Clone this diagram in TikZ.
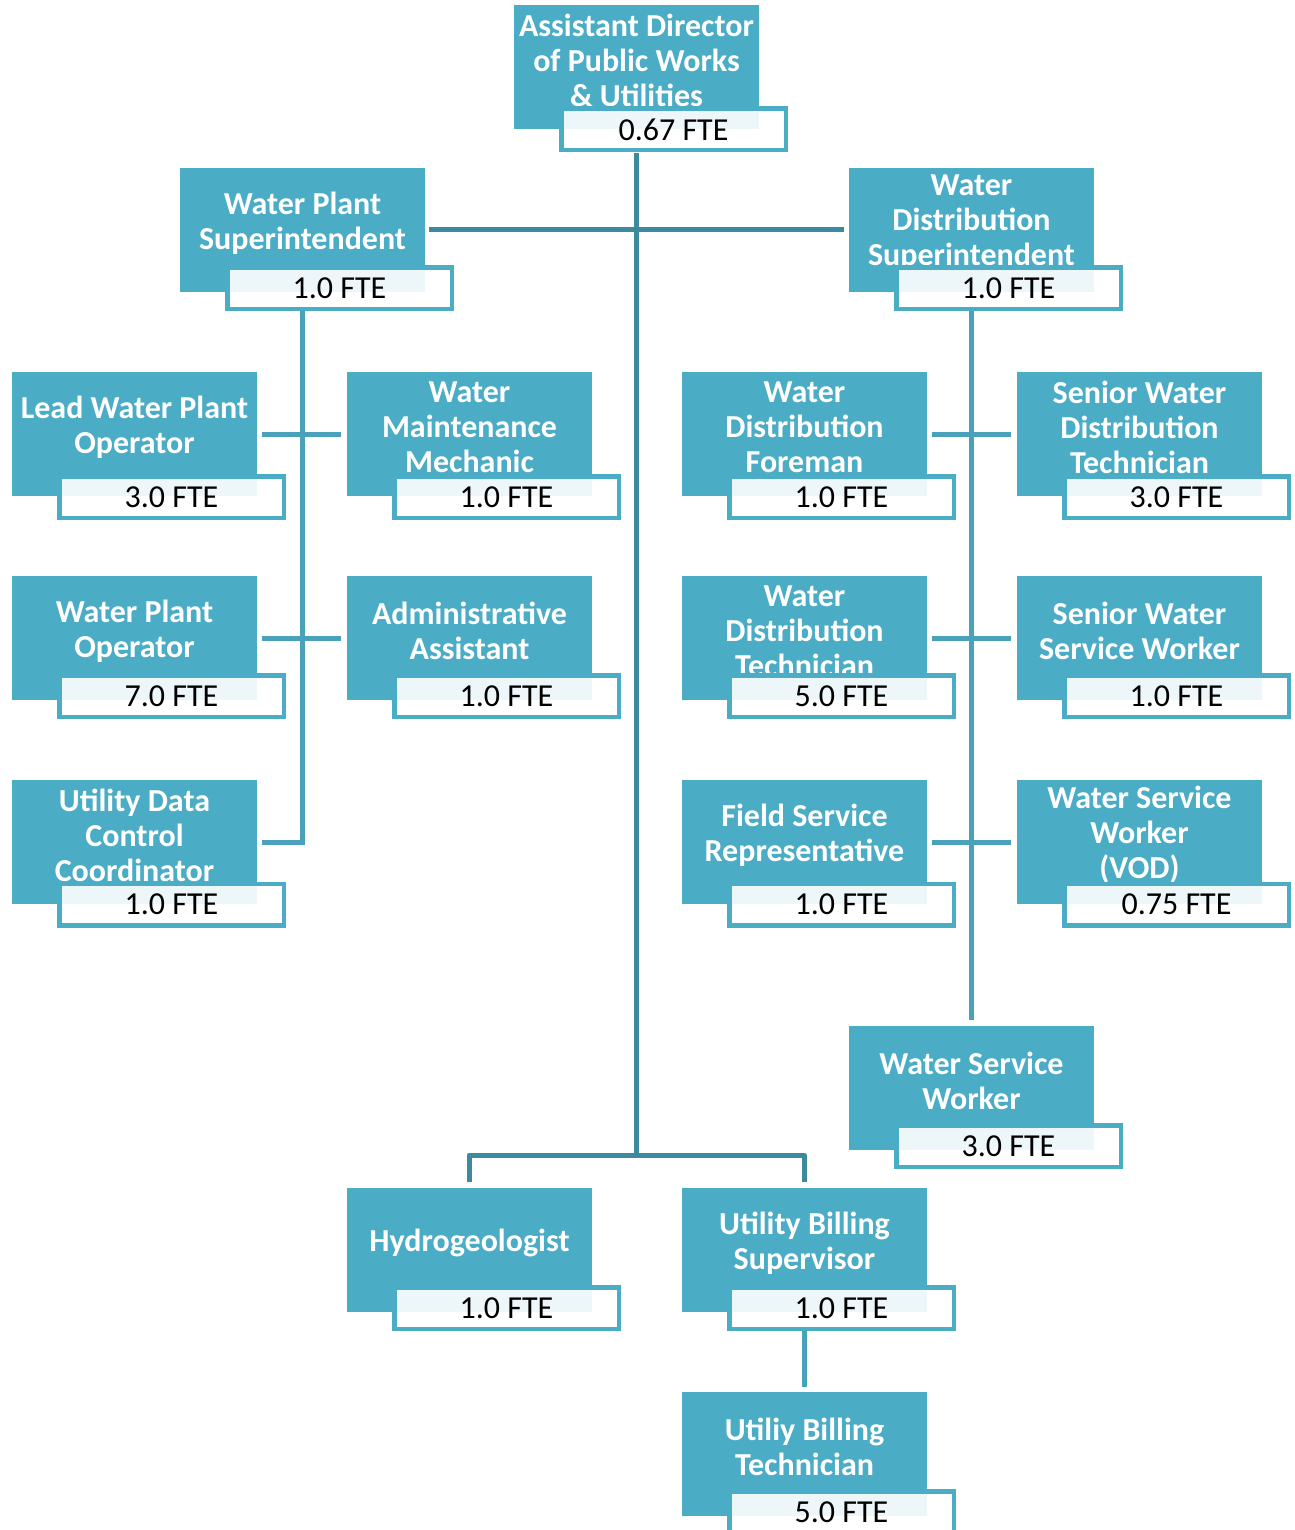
\documentclass[tikz,border=0pt]{standalone}
\usepackage{fontspec}
\setmainfont{Carlito}
\usetikzlibrary{calc}

\definecolor{boxteal}{HTML}{4BACC6}
\definecolor{linkdark}{HTML}{3D8A9E}
\definecolor{linklight}{HTML}{4AA2BA}

\tikzset{
  role/.style={fill=boxteal, draw=none, minimum width=245pt, minimum height=124pt,
    anchor=north west, inner sep=0pt, outer sep=0pt},
  roletitle/.style={text=white, font=\bfseries\fontsize{32}{35}\selectfont,
    align=center, anchor=center, inner sep=0pt},
  fte/.style={draw=boxteal, line width=4.5pt, fill=white, fill opacity=0.9,
    text opacity=1, minimum width=224.5pt, minimum height=41.5pt, inner sep=0pt,
    outer sep=0pt, text=black, font=\fontsize{32}{35}\selectfont},
  mainlink/.style={draw=linkdark, line width=5pt, line join=round},
  sublink/.style={draw=linklight, line width=5pt},
}

% one position: [staffing box offset], name, left x, top y, title, staffing
\newcommand\orgpost[6][-4]{%
  \node[role] (#2) at (#3,#4) {};
  \node[roletitle] (#2-t) at ($(#2.north)+(0,55)$) {#5};
  \node[fte] (#2-f) at ($(#2.south west)+(159.5,#1)$) {#6};
}

\begin{document}
\begin{tikzpicture}[x=1pt,y=-1pt]
\fill[white] (0,0) rectangle (1294,1530);
\useasboundingbox (0,0) rectangle (1294,1530);

% reference point for the lower bus bar
\coordinate (busbar) at (469,1155);

% connectors
\draw[mainlink] (636,153) coordinate (topfoot) -- (topfoot |- busbar);
\draw[mainlink] (429,230) coordinate (wpsR) -- (844,230) coordinate (wdsL);
\draw[mainlink] (469,1182) coordinate (hydroIn) -- (hydroIn |- busbar) -- (804,1155) -- (804,1182) coordinate (ubsIn);

\draw[sublink] (302,310) coordinate (wpsFoot) -- (302,842) -- (262,842) coordinate (uddcIn);
\draw[sublink] (262,434) coordinate (lwpoR) -- (341,434) coordinate (wmmL);
\draw[sublink] (262,638) coordinate (wpoR) -- (341,638) coordinate (aaL);

\draw[sublink] (971,310) coordinate (wdsFoot) -- (971,1020) coordinate (wswIn);
\draw[sublink] (932,434) coordinate (wdfR) -- (1011,434) coordinate (swdtL);
\draw[sublink] (932,638) coordinate (wdtR) -- (1011,638) coordinate (swswL);
\draw[sublink] (932,842) coordinate (fsrR) -- (1011,842) coordinate (wsvL);

\draw[sublink] (804,1330) coordinate (ubsFoot) -- (804,1387) coordinate (ubtIn);

% positions
\orgpost[0.5]{top}{514}{5}{Assistant Director\\of Public Works\\\& Utilities}{0.67 FTE}
\orgpost{wps}{180}{168}{Water Plant\\Superintendent}{1.0 FTE}
\orgpost{wds}{849}{168}{Water\\Distribution\\Superintendent}{1.0 FTE}

\orgpost[1]{lwpo}{12}{372}{Lead Water Plant\\Operator}{3.0 FTE}
\orgpost[1]{wmm}{347}{372}{Water\\Maintenance\\Mechanic}{1.0 FTE}
\orgpost[1]{wdf}{682}{372}{Water\\Distribution\\Foreman}{1.0 FTE}
\orgpost[1]{swdt}{1017}{372}{Senior Water\\Distribution\\Technician}{3.0 FTE}

\orgpost{wpo}{12}{576}{Water Plant\\Operator}{7.0 FTE}
\orgpost{aa}{347}{576}{Administrative\\Assistant}{1.0 FTE}
\orgpost{wdt}{682}{576}{Water\\Distribution\\Technician}{5.0 FTE}
\orgpost{swsw}{1017}{576}{Senior Water\\Service Worker}{1.0 FTE}

\orgpost[0.5]{uddc}{12}{780}{Utility Data\\Control\\Coordinator}{1.0 FTE}
\orgpost[0.5]{fsr}{682}{780}{Field Service\\Representative}{1.0 FTE}
\orgpost[0.5]{wsv}{1017}{780}{Water Service\\Worker\\(VOD)}{0.75 FTE}

\orgpost{wsw}{849}{1026}{Water Service\\Worker}{3.0 FTE}

\orgpost{hydro}{347}{1188}{Hydrogeologist}{1.0 FTE}
\orgpost{ubs}{682}{1188}{Utility Billing\\Supervisor}{1.0 FTE}
\orgpost{ubt}{682}{1392}{Utiliy Billing\\Technician}{5.0 FTE}
\end{tikzpicture}
\end{document}
